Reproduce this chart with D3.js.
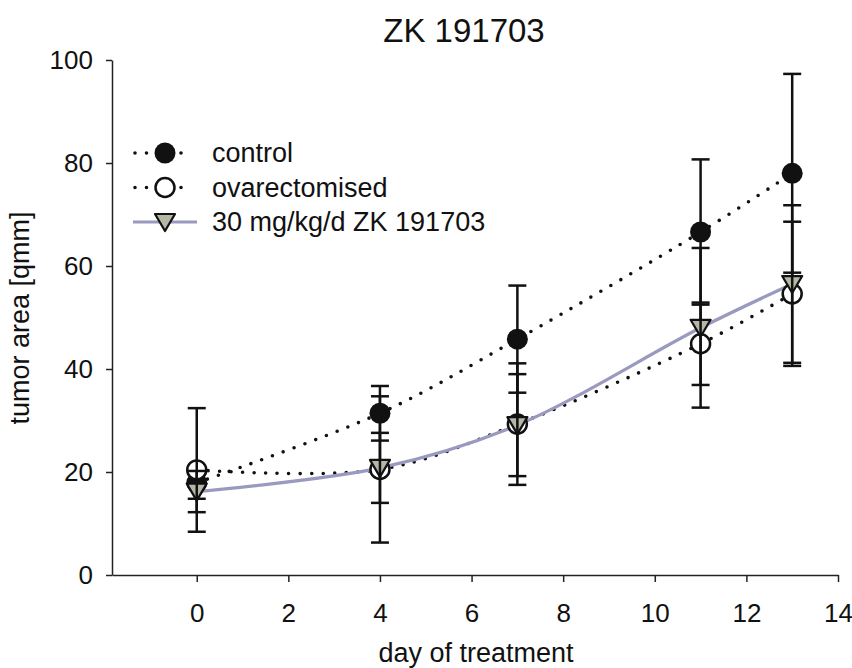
<!DOCTYPE html>
<html>
<head>
<meta charset="utf-8">
<script src="https://cdn.jsdelivr.net/npm/d3@7"></script>
<style>
    body{margin:0;background:#fff;}
    svg text{font-family:"Liberation Sans",Arial,sans-serif;fill:#111;}
</style>
</head>
<body>
<svg id="chart" width="852" height="668"></svg>
<script>
"use strict";
//Data
var days = [0, 4, 7, 11, 13];
var controlMean = [17.9, 31.4, 45.8, 66.6, 78.0],
    controlSd = [3.1, 5.3, 10.4, 14.1, 19.3];
var ovxMean = [20.4, 20.5, 29.3, 44.9, 54.6],
    ovxSd = [12.0, 14.2, 11.8, 8.0, 14.0];
var zkMean = [16.2, 20.8, 29.1, 48.0, 56.5],
    zkSd = [4.0, 6.8, 9.9, 15.5, 15.3];
var xTicks = [0, 2, 4, 6, 8, 10, 12, 14],
    yTicks = [0, 20, 40, 60, 80, 100];
var seriesNames = ["control", "ovarectomised", "30 mg/kg/d ZK 191703"];

var colours = {
    black: "#111",
    lavender: "#9a9ac0",
    triFill: "#b6b7a6"
};

var svg = d3.select("#chart");
var plotLeft = 112, plotRight = 838, plotTop = 60, plotBottom = 575;

var x = d3.scaleLinear().domain([-1.85, 14]).range([plotLeft, plotRight]);
var y = d3.scaleLinear().domain([0, 100]).range([plotBottom, plotTop]);

//----------------------------------------
//Axes
var yAxis = svg.append("g")
    .attr("transform", "translate(" + plotLeft + ",0)")
    .call(d3.axisLeft(y).tickValues(yTicks).tickSize(6).tickPadding(13).tickSizeOuter(0));
var xAxis = svg.append("g")
    .attr("transform", "translate(0," + plotBottom + ")")
    .call(d3.axisBottom(x).tickValues(xTicks).tickSize(7).tickPadding(22).tickSizeOuter(0));

[xAxis, yAxis].forEach(function(a){
    a.selectAll("path,line").attr("stroke", "#222").attr("stroke-width", 1.5);
    a.selectAll("text").style("font-size", "26px").attr("fill", "#111");
});

svg.append("text")
    .attr("x", 464).attr("y", 42)
    .attr("text-anchor", "middle")
    .style("font-size", "33px")
    .text("ZK 191703");

svg.append("text")
    .attr("x", 476).attr("y", 662)
    .attr("text-anchor", "middle")
    .style("font-size", "27px")
    .text("day of treatment");

svg.append("text")
    .attr("transform", "translate(29,318) rotate(-90)")
    .attr("text-anchor", "middle")
    .style("font-size", "27px")
    .text("tumor area [qmm]");

//----------------------------------------
//Helper functions

var toPoints = function(means, sds){
    return days.map(function(d, i){
        return {day: d, mean: means[i], sd: sds[i]};
    });
};

var lineGen = d3.line()
    .x(function(d){ return x(d.day); })
    .y(function(d){ return y(d.mean); })
    .curve(d3.curveCatmullRom.alpha(0.5));

var triPath = function(cx, cy){
    return "M" + (cx - 10) + "," + (cy - 8) + "L" + (cx + 10) + "," + (cy - 8) +
        "L" + cx + "," + (cy + 9) + "Z";
};

var drawMarker = function(g, kind, cx, cy){
    if(kind === "filled"){
        g.append("circle").attr("cx", cx).attr("cy", cy).attr("r", 10.5)
            .attr("fill", colours.black);
    }else if(kind === "open"){
        g.append("circle").attr("cx", cx).attr("cy", cy).attr("r", 9.5)
            .attr("fill", "#fff").attr("stroke", colours.black).attr("stroke-width", 2.5);
    }else{
        g.append("path").attr("d", triPath(cx, cy))
            .attr("fill", colours.triFill).attr("stroke", colours.black)
            .attr("stroke-width", 2.2).attr("stroke-linejoin", "round");
    }
};

var series = [
    {name: seriesNames[0], data: toPoints(controlMean, controlSd), marker: "filled", dotted: true},
    {name: seriesNames[1], data: toPoints(ovxMean, ovxSd), marker: "open", dotted: true},
    {name: seriesNames[2], data: toPoints(zkMean, zkSd), marker: "tri", dotted: false}
];

var styleLine = function(sel, s){
    if(s.dotted){
        sel.attr("stroke", colours.black).attr("stroke-width", 3.6)
            .attr("stroke-linecap", "round").attr("stroke-dasharray", "0,11.5");
    }else{
        sel.attr("stroke", colours.lavender).attr("stroke-width", 3.2);
    }
    return sel;
};

//----------------------------------------
//Lines
series.forEach(function(s){
    styleLine(svg.append("path").datum(s.data).attr("d", lineGen).attr("fill", "none"), s);
});

//Markers and error bars
series.forEach(function(s){
    var g = svg.append("g");
    s.data.forEach(function(d){
        drawMarker(g, s.marker, x(d.day), y(d.mean));
    });
    var bars = g.selectAll("g.err").data(s.data).enter().append("g")
        .attr("stroke", colours.black).attr("stroke-width", 2.5);
    bars.append("line")
        .attr("x1", function(d){ return x(d.day); })
        .attr("x2", function(d){ return x(d.day); })
        .attr("y1", function(d){ return y(d.mean + d.sd); })
        .attr("y2", function(d){ return y(d.mean - d.sd); });
    [1, -1].forEach(function(sign){
        bars.append("line")
            .attr("x1", function(d){ return x(d.day) - 9; })
            .attr("x2", function(d){ return x(d.day) + 9; })
            .attr("y1", function(d){ return y(d.mean + sign * d.sd); })
            .attr("y2", function(d){ return y(d.mean + sign * d.sd); });
    });
});

//----------------------------------------
//Legend
var legend = svg.append("g").attr("transform", "translate(133,153)");
series.forEach(function(s, i){
    var row = legend.append("g").attr("transform", "translate(0," + (i * 34.5) + ")");
    var sample = row.append("path").attr("d", s.dotted ? "M2,0L56,0" : "M0,0L64,0").attr("fill", "none");
    styleLine(sample, s);
    drawMarker(row, s.marker, 32, 0);
    row.append("text").attr("x", 79).attr("y", 0).attr("dy", "0.35em")
        .style("font-size", "27px").text(s.name);
});
</script>
</body>
</html>
